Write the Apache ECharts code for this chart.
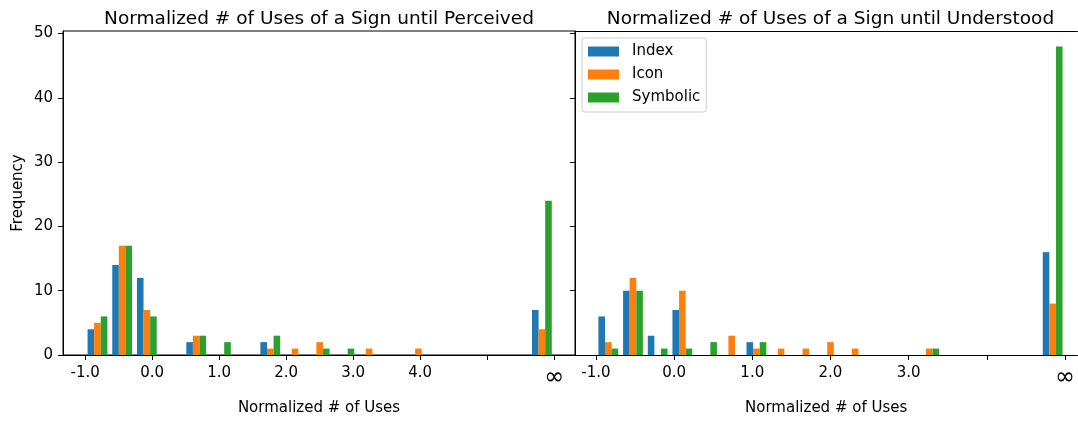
<!DOCTYPE html>
<html>
<head>
<meta charset="utf-8">
<script src="https://cdn.jsdelivr.net/npm/echarts@6/dist/echarts.min.js"></script>
<style>
html,body{margin:0;padding:0;background:#fff;}
#chart{width:1078px;height:421px;}
</style>
</head>
<body>
<div id="chart"></div>
<script>
// ---- data ----
const seriesNames = ['Index', 'Icon', 'Symbolic'];
const seriesColors = ['#1f77b4', '#ff7f0e', '#2ca02c'];
const titles = ['Normalized # of Uses of a Sign until Perceived', 'Normalized # of Uses of a Sign until Understood'];
const xAxisTitle = 'Normalized # of Uses';
const yAxisTitle = 'Frequency';
const binCount = 19;
const leftBinRange = [-1, 6];
const rightBinRange = [-1, 5];
const leftIndex    = [4, 14, 12, 0, 2, 0, 0, 2, 0, 0, 0, 0, 0, 0, 0, 0, 0, 0, 7];
const leftIcon     = [5, 17, 7, 0, 3, 0, 0, 1, 1, 2, 0, 1, 0, 1, 0, 0, 0, 0, 4];
const leftSymbolic = [6, 17, 6, 0, 3, 2, 0, 3, 0, 1, 1, 0, 0, 0, 0, 0, 0, 0, 24];
const rightIndex    = [6, 10, 3, 7, 0, 0, 2, 0, 0, 0, 0, 0, 0, 0, 0, 0, 0, 0, 16];
const rightIcon     = [2, 12, 0, 10, 0, 3, 1, 1, 1, 2, 1, 0, 0, 1, 0, 0, 0, 0, 8];
const rightSymbolic = [1, 10, 1, 1, 2, 0, 2, 0, 0, 0, 0, 0, 0, 1, 0, 0, 0, 0, 48];
const leftTickValues = [-1, 0, 1, 2, 3, 4, 5, 6];
const leftTickLabels = ['-1.0', '0.0', '1.0', '2.0', '3.0', '4.0', '', '∞'];
const rightTickValues = [-1, 0, 1, 2, 3, 4, 5];
const rightTickLabels = ['-1.0', '0.0', '1.0', '2.0', '3.0', '', '∞'];
const yTickValues = [0, 10, 20, 30, 40, 50];

// ---- build ----
const FONT = 'DejaVu Sans';
function binCenters(range) {
  const w = (range[1] - range[0]) / binCount;
  const out = [];
  for (let i = 0; i < binCount; i++) out.push(range[0] + (i + 0.5) * w);
  return out;
}
function pairs(range, counts) {
  const c = binCenters(range);
  const out = [];
  counts.forEach((v, i) => { if (v > 0) out.push([c[i], v]); });
  return out;
}
function xLabelFormatter(values, labels) {
  return function (val) {
    const idx = values.findIndex(v => Math.abs(v - val) < 1e-6);
    if (idx < 0) return '';
    const t = labels[idx];
    if (t === '∞') return '{inf|∞}';
    return t;
  };
}
function xAxis(gridIndex, min, max, values, labels) {
  return {
    type: 'value', gridIndex, min, max, position: 'bottom',
    name: xAxisTitle, nameLocation: 'middle', nameGap: 46,
    nameTextStyle: { fontFamily: FONT, fontSize: 15, color: '#000' },
    axisLine: { show: true, onZero: false, lineStyle: { color: '#000', width: 1 } },
    axisTick: { show: true, customValues: values, length: 5, lineStyle: { color: '#000', width: 1 } },
    axisLabel: {
      show: true, customValues: values, margin: 11,
      fontFamily: FONT, fontSize: 15, color: '#000',
      formatter: xLabelFormatter(values, labels),
      rich: { inf: { fontFamily: FONT, fontSize: 24, color: '#000' } }
    },
    splitLine: { show: false }
  };
}
function topLineAxis(gridIndex, min, max) {
  return {
    type: 'value', gridIndex, min, max, position: 'top',
    axisLine: { show: true, onZero: false, lineStyle: { color: '#000', width: 1 } },
    axisTick: { show: false }, axisLabel: { show: false }, splitLine: { show: false }
  };
}
function yAxis(gridIndex, showLabels) {
  return {
    type: 'value', gridIndex, min: 0, max: 50.4,
    name: showLabels ? yAxisTitle : '', nameLocation: 'middle', nameGap: 37,
    nameTextStyle: { fontFamily: FONT, fontSize: 15, color: '#000' },
    axisLine: { show: true, onZero: false, lineStyle: { color: '#000', width: 1 } },
    axisTick: { show: true, customValues: yTickValues, length: 5, lineStyle: { color: '#000', width: 1 } },
    axisLabel: { show: showLabels, customValues: yTickValues, margin: 10, fontFamily: FONT, fontSize: 15, color: '#000' },
    splitLine: { show: false }
  };
}
const leftData = [leftIndex, leftIcon, leftSymbolic];
const rightData = [rightIndex, rightIcon, rightSymbolic];
const series = [];
[leftData, rightData].forEach((set, g) => {
  const range = g === 0 ? leftBinRange : rightBinRange;
  set.forEach((counts, k) => {
    series.push({
      type: 'bar', name: seriesNames[k], xAxisIndex: g, yAxisIndex: g,
      data: pairs(range, counts),
      barWidth: 6.6, barGap: '0%',
      itemStyle: { color: seriesColors[k] },
      emphasis: { disabled: true },
      animation: false
    });
  });
});

const leftMin = -1.33, leftMax = 6.31;
const rightMin = -1.268, rightMax = 5.158;

const chart = echarts.init(document.getElementById('chart'), null, { renderer: 'canvas' });
chart.setOption({
  animation: false,
  backgroundColor: '#fff',
  title: [
    { text: titles[0], left: 314, top: 5, textAlign: 'center', textStyle: { fontFamily: FONT, fontSize: 18.5, fontWeight: 'normal', color: '#000' } },
    { text: titles[1], left: 825.5, top: 5, textAlign: 'center', textStyle: { fontFamily: FONT, fontSize: 18.5, fontWeight: 'normal', color: '#000' } }
  ],
  legend: {
    data: seriesNames, orient: 'vertical', left: 582, top: 38,
    icon: 'rect', itemWidth: 31, itemHeight: 10, itemGap: 8,
    padding: [6, 6, 7, 6],
    backgroundColor: 'rgba(255,255,255,0.8)', borderColor: '#cccccc', borderWidth: 1, borderRadius: 3,
    textStyle: { fontFamily: FONT, fontSize: 15, color: '#000', padding: [0, 0, 0, 8] },
    selectedMode: false
  },
  grid: [
    { left: 63, width: 512, top: 31, height: 329, show: true, borderColor: '#000', borderWidth: 1, backgroundColor: 'transparent' },
    { left: 575, width: 503, top: 31, height: 329, show: false }
  ],
  xAxis: [
    xAxis(0, leftMin, leftMax, leftTickValues, leftTickLabels),
    xAxis(1, rightMin, rightMax, rightTickValues, rightTickLabels),
    topLineAxis(1, rightMin, rightMax)
  ],
  yAxis: [yAxis(0, true), yAxis(1, false)],
  series
});
</script>
</body>
</html>
